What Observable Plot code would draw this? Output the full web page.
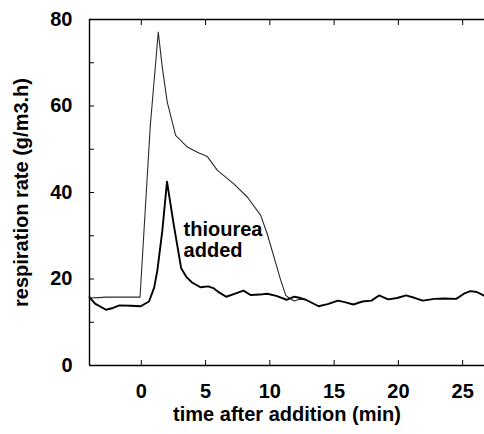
<!DOCTYPE html>
<html><head><meta charset="utf-8">
<script src="https://cdn.jsdelivr.net/npm/d3@7"></script>
<script src="https://cdn.jsdelivr.net/npm/@observablehq/plot@0.6"></script>
<style>html,body{margin:0;padding:0;background:#fff;overflow:hidden}</style>
</head><body><div id="chart"></div>
<script>
// thin series (no thiourea)
const controlTime = [-4.03, -3.3, -2.7, -0.1, 0.7, 1.32, 1.63, 2.02, 2.67, 3.58, 4.36, 5.14, 5.92, 7.2, 8.26, 9.29, 9.8, 10.33, 10.85, 11.24, 11.5, 11.9, 12.3, 12.7];
const controlRate = [15.6, 15.7, 15.8, 15.8, 55.5, 77.1, 69.0, 60.9, 53.2, 50.5, 49.3, 48.3, 45.1, 42.0, 38.9, 34.7, 30.4, 25.0, 19.7, 16.2, 15.6, 14.9, 15.3, 15.3];
// thick series (thiourea added)
const thioTime = [-4.03, -3.6, -2.75, -2.2, -1.7, -0.8, -0.05, 0.6, 1.0, 1.25, 1.63, 2.0, 2.5, 3.1, 3.5, 3.95, 4.6, 5.2, 5.6, 6.05, 6.6, 7.3, 7.95, 8.5, 9.2, 9.8, 10.5, 11.3, 11.9, 12.4, 12.8, 13.8, 14.5, 15.3, 15.9, 16.5, 17.2, 17.9, 18.5, 19.2, 19.9, 20.6, 21.3, 21.9, 22.8, 23.6, 24.5, 25.1, 25.6, 26.1, 26.7];
const thioRate = [15.8, 14.3, 12.9, 13.3, 13.9, 13.8, 13.7, 14.8, 18.0, 22.0, 31.0, 42.5, 33.0, 22.5, 20.5, 19.2, 18.1, 18.3, 17.9, 16.9, 15.9, 16.6, 17.3, 16.3, 16.4, 16.6, 16.1, 15.2, 15.9, 15.6, 15.2, 13.7, 14.2, 15.0, 14.6, 14.1, 14.8, 15.0, 16.2, 15.3, 15.6, 16.2, 15.6, 15.0, 15.4, 15.5, 15.4, 16.6, 17.2, 17.0, 16.1];
const xDomain = [-4.03, 26.7];
const yDomain = [0, 80];
const xTicks = [0, 5, 10, 15, 20, 25];
const yTicks = [0, 10, 20, 30, 40, 50, 60, 70, 80];
const yTickLabels = [0, 20, 40, 60, 80];
const xTitle = "time after addition (min)";
const yTitle = "respiration rate (g/m3.h)";
const annotationText = "thiourea\nadded";
const annotationX = [3.29];
const annotationY = [33.5];

const control = controlTime.map((t, i) => ({t, r: controlRate[i]}));
const thio = thioTime.map((t, i) => ({t, r: thioRate[i]}));

const chart = Plot.plot({
  width: 484, height: 434,
  marginLeft: 89, marginRight: 0, marginTop: 19, marginBottom: 69,
  x: {domain: xDomain},
  y: {domain: yDomain},
  style: {fontFamily: "'Liberation Sans', Arial, sans-serif", fontSize: "20px", fontWeight: "bold", background: "white", color: "black"},
  marks: [
    Plot.ruleX(xDomain.slice(0, 1), {stroke: "black", strokeWidth: 1.4}),
    Plot.ruleY(yDomain, {stroke: "black", strokeWidth: 1.3}),
    Plot.axisX({anchor: "bottom", ticks: xTicks, tickSize: -5, tickFormat: () => "", label: null}),
    Plot.axisX({anchor: "top", ticks: xTicks, tickSize: -5, tickFormat: () => "", label: null}),
    Plot.axisY({anchor: "left", ticks: yTicks, tickSize: -5, tickFormat: () => "", label: null}),
    Plot.axisX({anchor: "bottom", ticks: xTicks, tickSize: 0, tickPadding: 18, label: null}),
    Plot.axisY({anchor: "left", ticks: yTickLabels, tickSize: 0, tickPadding: 17, label: null}),
    Plot.text([xTitle], {frameAnchor: "bottom", text: d => d, textAnchor: "middle", lineAnchor: "top", dy: 41}),
    Plot.text([yTitle], {frameAnchor: "left", text: d => d, rotate: -90, textAnchor: "middle", lineAnchor: "top", dx: -76}),
    Plot.line(control, {x: "t", y: "r", stroke: "#2a2a2a", strokeWidth: 1.1}),
    Plot.line(thio, {x: "t", y: "r", stroke: "#000", strokeWidth: 1.9}),
    Plot.text([annotationText], {x: annotationX, y: annotationY, text: () => annotationText, textAnchor: "start", lineAnchor: "top", lineHeight: 1.05})
  ]
});
document.getElementById("chart").appendChild(chart);
</script>
</body></html>
